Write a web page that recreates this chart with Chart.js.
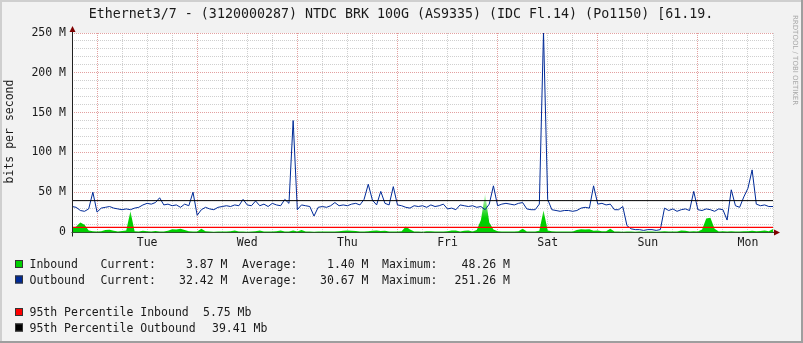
<!DOCTYPE html>
<html>
<head>
<meta charset="utf-8">
<title>Ethernet3/7 traffic</title>
<script src="https://cdn.jsdelivr.net/npm/chart.js@4.4.1/dist/chart.umd.min.js"></script>
<style>
  html, body { margin: 0; padding: 0; background: #f2f2f2; }
  canvas { display: block; }
</style>
</head>
<body>
<canvas id="traffic" width="803" height="343"></canvas>
<script>
const graphTitle = 'Ethernet3/7 - (3120000287) NTDC BRK 100G (AS9335) (IDC Fl.14) (Po1150) [61.19.';
const yAxisTitle = 'bits per second';

// hours relative to Tue 00:00, one sample per hour
const firstHour = -6;
const lastHour = 162;
const dayNames = ['Tue', 'Wed', 'Thu', 'Fri', 'Sat', 'Sun', 'Mon'];
const yMax = 250;

// Mbit/s
const inbound = [
  4, 7, 12, 9, 2, 1,
  0.5, 0.8, 2.5, 2.8, 1.5, 0.5, 1.2, 2, 26, 1, 0.5, 1.5, 0.8, 0.6, 1.2, 0.5, 0.7, 1.5, 3.5, 3, 4, 2.5, 1, 0.6,
  0.6, 4, 1, 0.5, 0.4, 0.7, 0.5, 0.6, 0.8, 2, 0.6, 0.5, 0.4, 0.6, 1, 2, 0.5, 0.6, 0.5, 0.8, 2, 0.6, 0.5, 2,
  0.5, 2.5, 0.6, 0.5, 0.4, 0.6, 0.5, 0.7, 0.6, 0.5, 0.8, 1.5, 1.8, 1.5, 1.2, 0.6, 0.5, 0.8, 1.5, 1.8, 1.2, 1.5, 0.6, 0.5,
  0.6, 1, 7, 3, 0.6, 0.5, 0.4, 0.8, 1, 0.5, 0.6, 0.5, 0.8, 2, 2, 0.6, 1.5, 2, 0.6, 2.5, 15, 48, 12, 3,
  1, 0.6, 0.5, 0.7, 0.5, 0.8, 4, 0.6, 0.5, 0.7, 1.5, 27, 2, 0.8, 0.5, 0.6, 0.7, 0.5, 0.6, 2.5, 3.5, 3, 3.5, 1.5,
  2, 0.8, 1, 4, 0.6, 0.5, 0.4, 0.6, 0.5, 0.4, 0.5, 0.4, 0.5, 0.6, 0.4, 0.5, 0.8, 0.6, 0.5, 0.7, 2, 1.5, 0.6, 0.8,
  0.6, 3, 17, 18, 4, 0.6, 0.8, 0.5, 1, 0.7, 0.6, 0.8, 1, 1.5, 0.8, 1.2, 2, 1, 3.9
];
const outbound = [
  32, 31, 27, 26, 29, 50,
  25, 30, 31, 32, 30, 29, 28, 29, 28, 30, 31, 34, 36, 35, 37, 43, 34, 35, 33, 34, 31, 35, 33, 50,
  21, 28, 31, 29, 28, 31, 32, 33, 32, 34, 33, 41, 34, 33, 39, 33, 35, 32, 36, 34, 33, 41, 36, 140,
  28, 34, 33, 32, 20, 31, 32, 31, 33, 37, 33, 34, 33, 35, 36, 34, 41, 60, 40, 34, 51, 36, 34, 57,
  34, 33, 31, 30, 33, 32, 33, 31, 34, 32, 33, 35, 29, 30, 28, 34, 33, 32, 33, 31, 32, 28, 35, 58,
  33, 35, 36, 35, 34, 36, 37, 29, 28, 28, 35, 251, 41, 28, 27, 26, 27, 27, 26, 27, 30, 31, 30, 58,
  35, 36, 34, 35, 28, 28, 32, 8, 4, 3, 3, 2, 3, 3, 2, 3, 30, 27, 29, 26, 28, 29, 27, 51,
  28, 27, 29, 28, 26, 29, 28, 15, 53, 33, 31, 44, 55, 78, 35, 33, 34, 32, 32
];
const pct95Inbound = 5.75;
const pct95Outbound = 39.41;
const inboundStats = ['3.87 M', '1.40 M', '48.26 M'];
const outboundStats = ['32.42 M', '30.67 M', '251.26 M'];

const GREEN = '#00cf00';
const BLUE = '#002a97';
const MONO = '"DejaVu Sans Mono", monospace';

const toPoints = arr => arr.map((v, i) => ({ x: firstHour + i, y: v }));
const hrule = v => [{ x: firstHour, y: v }, { x: lastHour, y: v }];

const rrdFrame = {
  id: 'rrdFrame',
  beforeDraw(chart) {
    const { ctx, chartArea: a, width, height } = chart;
    ctx.save();
    ctx.fillStyle = '#f2f2f2';
    ctx.fillRect(0, 0, width, height);
    ctx.fillStyle = '#cfcfcf';
    ctx.fillRect(0, 0, width, 2);
    ctx.fillRect(0, 0, 2, height);
    ctx.fillStyle = '#9e9e9e';
    ctx.fillRect(0, height - 2, width, 2);
    ctx.fillRect(width - 2, 0, 2, height);
    ctx.fillStyle = '#ffffff';
    ctx.fillRect(a.left, a.top, a.right - a.left, a.bottom - a.top);
    ctx.restore();
  },
  afterDraw(chart) {
    const { ctx, chartArea: a } = chart;
    const ax = Math.round(a.left) + 0.5;
    const ay = Math.round(a.bottom) + 0.5;
    ctx.save();

    // axes + arrows
    ctx.lineWidth = 1;
    ctx.strokeStyle = '#202020';
    ctx.beginPath();
    ctx.moveTo(ax, ay + 4);
    ctx.lineTo(ax, a.top - 4);
    ctx.stroke();
    ctx.strokeStyle = '#2d5a2d';
    ctx.beginPath();
    ctx.moveTo(ax - 1, ay);
    ctx.lineTo(a.right + 2, ay);
    ctx.stroke();
    ctx.fillStyle = '#7f0000';
    ctx.beginPath();
    ctx.moveTo(ax - 3, a.top - 1);
    ctx.lineTo(ax + 3, a.top - 1);
    ctx.lineTo(ax, a.top - 7);
    ctx.closePath();
    ctx.fill();
    ctx.beginPath();
    ctx.moveTo(a.right + 1, ay - 3);
    ctx.lineTo(a.right + 1, ay + 3);
    ctx.lineTo(a.right + 7, ay);
    ctx.closePath();
    ctx.fill();

    // title
    ctx.fillStyle = '#1a1a1a';
    ctx.font = '13.3px ' + MONO;
    ctx.textAlign = 'center';
    ctx.textBaseline = 'alphabetic';
    ctx.fillText(graphTitle, 401, 18);

    // vertical axis title
    ctx.font = '11.5px ' + MONO;
    ctx.save();
    ctx.translate(13, 131.5);
    ctx.rotate(-Math.PI / 2);
    ctx.fillText(yAxisTitle, 0, 0);
    ctx.restore();

    // watermark
    ctx.save();
    ctx.fillStyle = '#a8a8a8';
    ctx.font = '7px "DejaVu Sans", sans-serif';
    ctx.textAlign = 'left';
    ctx.translate(792.5, 15);
    ctx.rotate(Math.PI / 2);
    ctx.fillText('RRDTOOL / TOBI OETIKER', 0, 0);
    ctx.restore();

    // legend
    const box = (y, color) => {
      ctx.fillStyle = color;
      ctx.fillRect(15, y, 8, 8);
      ctx.strokeStyle = '#333';
      ctx.strokeRect(15.5, y + 0.5, 7, 7);
    };
    const txt = (s, x, y, align) => {
      ctx.fillStyle = '#1a1a1a';
      ctx.textAlign = align || 'left';
      ctx.fillText(s, x, y);
    };
    ctx.font = '11.5px ' + MONO;
    const statRow = (y, name, color, stats) => {
      box(y - 8, color);
      txt(name, 29.5, y);
      txt('Current:', 100.5, y);
      txt(stats[0], 227.5, y, 'right');
      txt('Average:', 242, y);
      txt(stats[1], 368.5, y, 'right');
      txt('Maximum:', 382, y);
      txt(stats[2], 510, y, 'right');
    };
    statRow(268, 'Inbound', GREEN, inboundStats);
    statRow(283.5, 'Outbound', BLUE, outboundStats);
    box(308, '#ff0000');
    txt('95th Percentile Inbound', 29.5, 316);
    txt(pct95Inbound.toFixed(2) + ' Mb', 203, 316);
    box(323.5, '#000000');
    txt('95th Percentile Outbound', 29.5, 331.5);
    txt(pct95Outbound.toFixed(2) + ' Mb', 212, 331.5);

    ctx.restore();
  }
};

function inboundFill(context) {
  const chart = context.chart;
  const { ctx, chartArea, scales } = chart;
  if (!chartArea) return GREEN;
  const y0 = scales.y.getPixelForValue(0);
  const y1 = scales.y.getPixelForValue(50);
  const g = ctx.createLinearGradient(0, y0, 0, y1);
  g.addColorStop(0, GREEN);
  g.addColorStop(0.35, GREEN);
  g.addColorStop(1, 'rgba(0, 207, 0, 0.1)');
  return g;
}

new Chart(document.getElementById('traffic'), {
  type: 'line',
  data: {
    datasets: [
      {
        label: '95th Percentile Outbound',
        data: hrule(pct95Outbound),
        borderColor: '#000000',
        borderWidth: 1,
        pointRadius: 0,
        order: 0
      },
      {
        label: '95th Percentile Inbound',
        data: hrule(pct95Inbound),
        borderColor: '#ff0000',
        borderWidth: 1.2,
        pointRadius: 0,
        order: 0
      },
      {
        label: 'Outbound',
        data: toPoints(outbound),
        borderColor: BLUE,
        borderWidth: 1,
        pointRadius: 0,
        tension: 0,
        order: 1
      },
      {
        label: 'Inbound',
        data: toPoints(inbound),
        borderWidth: 0,
        borderColor: 'rgba(0,0,0,0)',
        backgroundColor: inboundFill,
        fill: 'origin',
        pointRadius: 0,
        tension: 0,
        order: 2
      }
    ]
  },
  options: {
    responsive: false,
    devicePixelRatio: 1,
    animation: false,
    layout: { padding: { left: 0, top: 33, right: 30, bottom: 91 } },
    plugins: {
      legend: { display: false },
      tooltip: { enabled: false },
      title: { display: false }
    },
    scales: {
      x: {
        type: 'linear',
        min: firstHour,
        max: lastHour,
        afterFit: scale => { scale.height = 20; },
        afterBuildTicks: scale => {
          const ticks = [];
          for (let h = firstHour; h <= lastHour; h += 6) ticks.push({ value: h });
          scale.ticks = ticks;
        },
        grid: {
          drawTicks: false,
          color: c => (c.tick && c.tick.value % 24 === 0 ? '#e3a0a0' : '#cfcfcf'),
          borderDash: [1, 1]
        },
        border: { display: false, dash: [1, 1] },
        ticks: {
          autoSkip: false,
          maxRotation: 0,
          padding: 4,
          color: '#1a1a1a',
          font: { family: 'DejaVu Sans Mono', size: 11.5 },
          callback: v => {
            const d = (v - 12) / 24;
            return Number.isInteger(d) && d >= 0 && d < dayNames.length ? dayNames[d] : '';
          }
        }
      },
      y: {
        min: 0,
        max: yMax,
        afterFit: scale => { scale.width = 72; },
        afterBuildTicks: scale => {
          const ticks = [];
          for (let v = 0; v <= yMax; v += 10) ticks.push({ value: v });
          scale.ticks = ticks;
        },
        grid: {
          drawTicks: false,
          color: c => (c.tick && c.tick.value % 50 === 0 ? '#e3a0a0' : '#cfcfcf'),
          borderDash: [1, 1]
        },
        border: { display: false, dash: [1, 1] },
        ticks: {
          autoSkip: false,
          padding: 6,
          color: '#1a1a1a',
          font: { family: 'DejaVu Sans Mono', size: 11.5 },
          callback: v => (v % 50 === 0 ? (v === 0 ? '0' : v + ' M') : '')
        }
      }
    }
  },
  plugins: [rrdFrame]
});
</script>
</body>
</html>
